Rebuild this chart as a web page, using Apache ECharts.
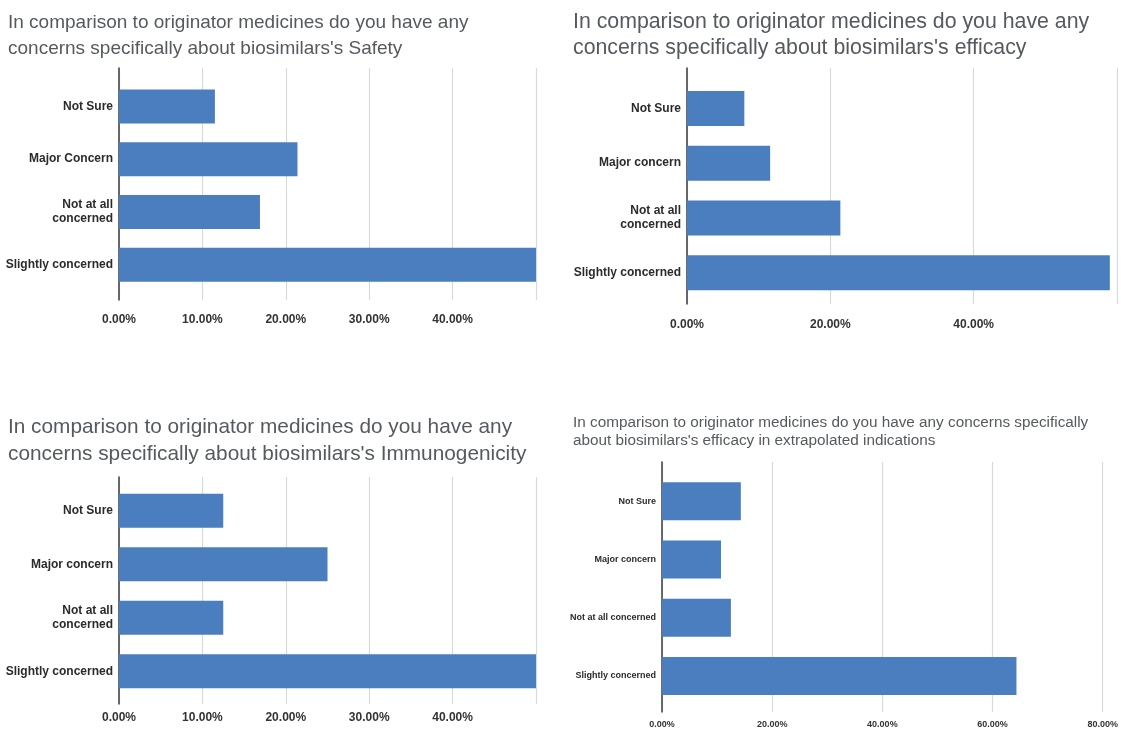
<!DOCTYPE html>
<html>
<head>
<meta charset="utf-8">
<title>Biosimilar concerns</title>
<script src="https://cdn.jsdelivr.net/npm/echarts@6/dist/echarts.min.js"></script>
<style>
  html, body { margin: 0; padding: 0; background: #ffffff; }
  #chart { width: 1121px; height: 731px; }
</style>
</head>
<body>
<div id="chart"></div>
<script>
// Survey answers, in percent of respondents (top to bottom within each chart)
const safetyCategories = ['Not Sure', 'Major Concern', 'Not at all\nconcerned', 'Slightly concerned'];
const safetyValues = [11.5, 21.4, 16.9, 50.0];

const efficacyCategories = ['Not Sure', 'Major concern', 'Not at all\nconcerned', 'Slightly concerned'];
const efficacyValues = [8.0, 11.6, 21.4, 59.0];

const immunoCategories = ['Not Sure', 'Major concern', 'Not at all\nconcerned', 'Slightly concerned'];
const immunoValues = [12.5, 25.0, 12.5, 50.0];

const extrapCategories = ['Not Sure', 'Major concern', 'Not at all concerned', 'Slightly concerned'];
const extrapValues = [14.3, 10.7, 12.5, 64.3];

// Axis ranges and tick steps
const axisMax = [50, 60, 50, 80];
const axisStep = [10, 20, 10, 20];

const titles = [
  "In comparison to originator medicines do you have any\nconcerns specifically about biosimilars's Safety",
  "In comparison to originator medicines do you have any\nconcerns specifically about biosimilars's efficacy",
  "In comparison to originator medicines do you have any\nconcerns specifically about biosimilars's Immunogenicity",
  "In comparison to originator medicines do you have any concerns specifically\nabout biosimilars's efficacy in extrapolated indications"
];

const FONT = '"Liberation Sans", Arial, sans-serif';
const BAR = '#4a7ebf';
const GRIDLINE = '#d6d9de';

// Layout of each panel: plot frame (axis line / gridlines) and band area for the bars
const panels = [
  { cats: safetyCategories, vals: safetyValues,
    frame: { left: 119, top: 68, width: 417, height: 232 },
    bars:  { left: 119, top: 80, width: 417, height: 211 },
    barW: 34, catFont: 12, catLH: 14, tickFont: 12, tickMargin: 14, showMax: false,
    title: { left: 8, top: 10, size: 19, lh: 26 } },
  { cats: efficacyCategories, vals: efficacyValues,
    frame: { left: 687, top: 68, width: 430, height: 236 },
    bars:  { left: 687, top: 81, width: 430, height: 219 },
    barW: 35, catFont: 12, catLH: 14, tickFont: 12, tickMargin: 15, showMax: false,
    title: { left: 573, top: 9, size: 21.3, lh: 26 } },
  { cats: immunoCategories, vals: immunoValues,
    frame: { left: 119, top: 477, width: 417, height: 227 },
    bars:  { left: 119, top: 484, width: 417, height: 214 },
    barW: 34, catFont: 12, catLH: 14, tickFont: 12, tickMargin: 8, showMax: false,
    title: { left: 8, top: 414, size: 20.8, lh: 27 } },
  { cats: extrapCategories, vals: extrapValues,
    frame: { left: 662, top: 462, width: 441, height: 250 },
    bars:  { left: 662, top: 472, width: 441, height: 233 },
    barW: 38, catFont: 9, catLH: 11, tickFont: 9, tickMargin: 8, showMax: true,
    title: { left: 573, top: 414, size: 15.3, lh: 18 } }
];

const grid = [], xAxis = [], yAxis = [], series = [], title = [];

panels.forEach((p, i) => {
  const frameIdx = grid.length;
  grid.push(Object.assign({ containLabel: false }, p.frame));
  const barIdx = grid.length;
  grid.push(Object.assign({ containLabel: false }, p.bars));

  // Frame grid: value ticks, vertical gridlines and the baseline
  xAxis.push({
    gridIndex: frameIdx, type: 'value', min: 0, max: axisMax[i], interval: axisStep[i],
    axisLine: { show: false }, axisTick: { show: false },
    splitLine: { show: true, lineStyle: { color: GRIDLINE, width: 1.2 } },
    axisLabel: {
      show: true, margin: p.tickMargin, showMaxLabel: p.showMax,
      fontFamily: FONT, fontSize: p.tickFont, fontWeight: 'bold', color: '#333',
      formatter: v => v.toFixed(2) + '%'
    }
  });
  yAxis.push({
    gridIndex: frameIdx, type: 'category', data: p.cats, inverse: true,
    axisLine: { show: true, lineStyle: { color: '#3c3c3c', width: 1.5 } },
    axisTick: { show: false }, axisLabel: { show: false }, splitLine: { show: false }
  });

  // Bar grid: category labels and the bars themselves
  xAxis.push({
    gridIndex: barIdx, type: 'value', min: 0, max: axisMax[i], interval: axisStep[i], show: false
  });
  yAxis.push({
    gridIndex: barIdx, type: 'category', data: p.cats, inverse: true,
    axisLine: { show: false }, axisTick: { show: false }, splitLine: { show: false },
    axisLabel: {
      margin: 6, fontFamily: FONT, fontSize: p.catFont, fontWeight: 'bold',
      color: '#2b2b2b', lineHeight: p.catLH, align: 'right'
    }
  });

  series.push({
    type: 'bar', xAxisIndex: barIdx, yAxisIndex: barIdx, data: p.vals,
    barWidth: p.barW, itemStyle: { color: BAR }, silent: true, animation: false
  });

  title.push({
    text: titles[i], left: p.title.left, top: p.title.top, padding: 0,
    textStyle: {
      fontFamily: FONT, fontSize: p.title.size, fontWeight: 'normal',
      color: '#555a5f', lineHeight: p.title.lh
    }
  });
});

const chart = echarts.init(document.getElementById('chart'), null, { renderer: 'canvas' });
chart.setOption({ animation: false, backgroundColor: '#ffffff', title, grid, xAxis, yAxis, series });
</script>
</body>
</html>
